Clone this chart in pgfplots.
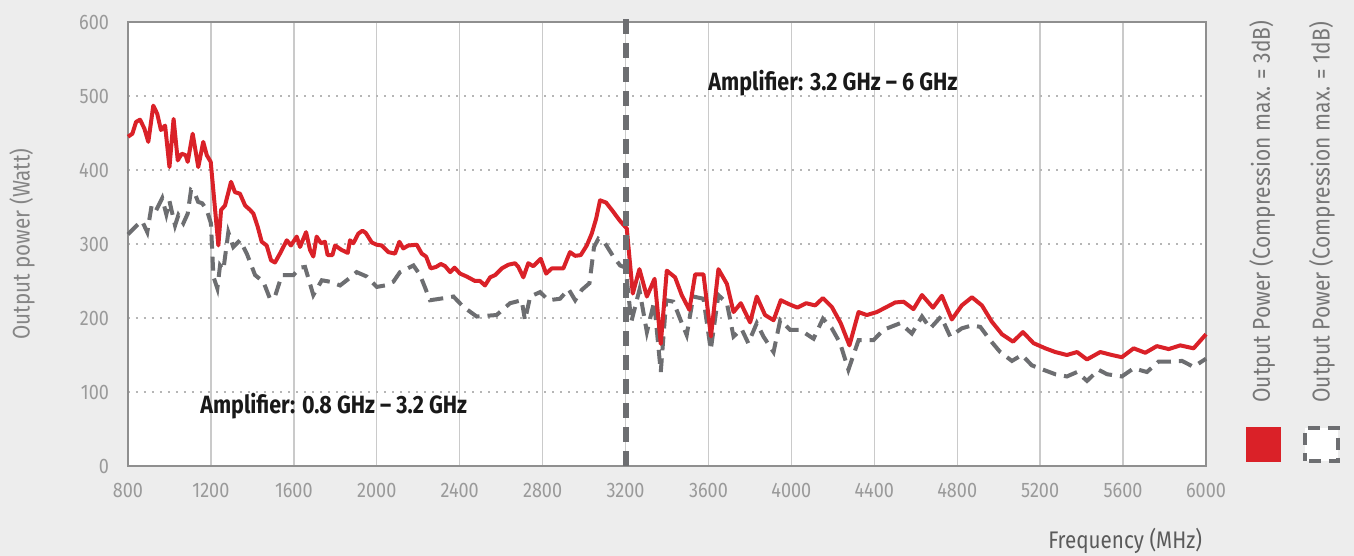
\documentclass[border=0pt]{standalone}
\usepackage{pgfplots}
\pgfplotsset{compat=1.18}
\usepackage{fontspec}
\setmainfont{Fira Sans}[FakeStretch=0.86]
\definecolor{bgc}{HTML}{EDEDED}
\definecolor{redl}{HTML}{DA2128}
\definecolor{grayl}{HTML}{6D6E71}
\definecolor{axc}{HTML}{8F8F8F}
\definecolor{gridc}{HTML}{CACACA}
\definecolor{tickc}{HTML}{9A9A9A}
\definecolor{labc}{HTML}{858585}
\definecolor{xlabc}{HTML}{5A5A5A}
\definecolor{legc}{HTML}{777777}
\begin{document}
\begin{tikzpicture}
\fill[bgc] (-64pt,-45pt) rectangle (613pt,233pt);
\useasboundingbox (-64pt,-45pt) rectangle (613pt,233pt);
\begin{axis}[
  scale only axis, width=539pt, height=222pt,
  xmin=800, xmax=6000, ymin=0, ymax=600,
  enlargelimits=false, clip=false,
  xtick={800,1200,...,6000}, ytick={0,100,...,600},
  /pgf/number format/assume math mode=true,
  /pgf/number format/set thousands separator={},
  major tick length=0pt,
  axis background/.style={fill=white},
  axis line style={draw=axc, line width=1.1pt},
  xmajorgrids, ymajorgrids,
  x grid style={draw=gridc, line width=0.7pt},
  y grid style={draw=gridc!90!black, line width=0.9pt, dash pattern=on 0.9pt off 3.1pt},
  tick label style={font=\fontsize{10.5}{12}\selectfont, text=tickc},
  yticklabel style={xshift=-6pt},
  xticklabel style={yshift=-5pt},
  xlabel={Frequency (MHz)},
  ylabel={Output power (Watt)},
  every axis x label/.style={at={(rel axis cs:0.925,0)}, anchor=center, yshift=-37.5pt, font=\fontsize{12}{14}\selectfont, text=xlabc},
  every axis y label/.style={at={(rel axis cs:0,0.5)}, xshift=-53pt, rotate=90, anchor=center, font=\fontsize{12}{14}\selectfont, text=labc},
]
% compression 1 dB (gray dashed)
\addplot[grayl, line width=2pt, dash pattern=on 7pt off 4pt] coordinates {
(800,313)(842,325)(868,331)(893,316)(914,352)(935,345)(965,362)(985,340)(1000,358)
(1027,325)(1043,339)(1067,328)(1088,341)(1104,373)(1120,370)(1138,357)(1158,355)
(1180,346)(1200,328)(1212,256)(1231,240)(1244,271)(1260,265)(1284,316)(1308,296)
(1340,305)(1373,287)(1413,258)(1453,249)(1485,226)(1509,229)(1542,258)(1598,258)
(1630,268)(1654,269)(1694,231)(1735,251)(1775,249)(1823,244)(1860,252)(1903,262)
(1952,256)(2000,242)(2040,244)(2080,249)(2112,262)(2177,271)(2209,258)(2257,224)
(2305,226)(2370,229)(2418,215)(2482,202)(2578,204)(2643,220)(2699,224)(2715,197)
(2740,229)(2788,235)(2828,224)(2884,226)(2925,239)(2957,224)(2989,238)(3026,247)
(3048,296)(3069,307)(3101,301)(3141,283)(3174,271)(3200,268)(3228,195)(3267,238)
(3303,181)(3338,222)(3370,127)(3396,224)(3431,222)(3463,199)(3495,177)(3527,229)
(3576,226)(3611,157)(3648,231)(3689,220)(3721,175)(3760,185)(3792,166)(3833,193)
(3865,175)(3914,154)(3946,197)(3994,184)(4042,184)(4107,172)(4152,199)(4195,186)
(4235,166)(4275,130)(4324,170)(4396,170)(4444,184)(4525,193)(4581,179)(4630,202)
(4670,186)(4722,202)(4766,175)(4822,186)(4871,190)(4911,188)(4959,170)(5007,154)
(5064,142)(5112,150)(5160,136)(5216,130)(5273,124)(5329,121)(5378,127)(5426,115)
(5482,130)(5523,124)(5594,121)(5651,132)(5715,127)(5771,141)(5828,141)(5884,142)
(5940,134)(6000,145)
};
% compression 3 dB (red)
\addplot[redl, line width=2pt, line join=round] coordinates {
(800,445)(821,449)(839,465)(858,468)(879,456)(898,438)(922,487)(941,476)(959,454)
(979,460)(1000,404)(1020,469)(1040,413)(1059,422)(1078,420)(1088,411)(1112,449)
(1139,404)(1163,438)(1180,420)(1199,411)(1236,298)(1249,346)(1268,352)(1297,384)
(1316,370)(1340,368)(1365,352)(1389,346)(1405,341)(1426,323)(1445,303)(1469,298)
(1490,278)(1509,275)(1533,287)(1566,305)(1586,298)(1614,310)(1630,296)(1659,316)
(1678,292)(1694,283)(1710,310)(1731,301)(1750,303)(1763,285)(1786,285)(1799,298)
(1830,292)(1860,288)(1871,305)(1887,301)(1911,314)(1931,318)(1947,315)(1976,302)
(2000,299)(2024,298)(2056,289)(2088,287)(2109,303)(2128,294)(2152,298)(2193,299)
(2217,287)(2238,283)(2260,267)(2286,269)(2309,273)(2330,270)(2354,262)(2375,268)
(2402,260)(2434,256)(2474,250)(2498,250)(2522,244)(2547,255)(2571,258)(2603,267)
(2635,272)(2667,274)(2683,269)(2707,255)(2731,274)(2755,270)(2791,280)(2817,260)
(2844,267)(2900,267)(2932,289)(2957,284)(2984,285)(3013,298)(3037,314)(3058,334)
(3077,359)(3106,356)(3134,346)(3174,331)(3206,321)(3235,233)(3267,266)(3303,229)
(3340,253)(3370,165)(3399,264)(3439,255)(3471,231)(3508,211)(3536,259)(3576,259)
(3612,175)(3648,266)(3689,246)(3721,208)(3756,220)(3801,194)(3833,229)(3873,204)
(3914,197)(3949,224)(3986,219)(4029,214)(4071,220)(4115,217)(4152,227)(4195,215)
(4238,193)(4280,163)(4324,208)(4364,204)(4412,208)(4460,215)(4501,221)(4541,222)
(4589,212)(4630,231)(4683,214)(4726,230)(4774,198)(4822,217)(4871,228)(4919,217)
(4967,195)(5016,178)(5069,168)(5117,181)(5168,166)(5225,159)(5273,154)(5329,150)
(5378,154)(5426,144)(5490,154)(5546,150)(5594,147)(5651,159)(5707,153)(5763,162)
(5820,158)(5876,163)(5940,159)(6000,178)
};
% band separator
\addplot[grayl, line width=3pt, dash pattern=on 7.5pt off 4.5pt] coordinates {(3200,0)(3200,606)};
\node[anchor=west, inner sep=0pt, font=\bfseries\fontsize{12.5}{14}\selectfont, text=black!90] at (axis cs:3598,517) {Amplifier: 3.2 GHz – 6 GHz};
\node[anchor=west, inner sep=0pt, font=\bfseries\fontsize{12.5}{14}\selectfont, text=black!90] at (axis cs:1147,81) {Amplifier: 0.8 GHz – 3.2 GHz};
% legend
\node[anchor=west, rotate=90, font=\fontsize{12.2}{14}\selectfont, text=legc, inner sep=0pt] at (rel axis cs:1.052,0.142) {Output Power (Compression max. = 3dB)};
\node[anchor=west, rotate=90, font=\fontsize{12.2}{14}\selectfont, text=legc, inner sep=0pt] at (rel axis cs:1.1076,0.142) {Output Power (Compression max. = 1dB)};
\fill[redl] ([xshift=-8.75pt,yshift=-8.75pt]rel axis cs:1.0534,0.0495) rectangle ([xshift=8.75pt,yshift=8.75pt]rel axis cs:1.0534,0.0495);
\draw[grayl, fill=white, line width=2pt, dash pattern=on 6pt off 4pt, dash phase=2pt] ([xshift=-8.25pt,yshift=-8.25pt]rel axis cs:1.107,0.0495) rectangle ([xshift=8.25pt,yshift=8.25pt]rel axis cs:1.107,0.0495);
\end{axis}
\end{tikzpicture}
\end{document}
